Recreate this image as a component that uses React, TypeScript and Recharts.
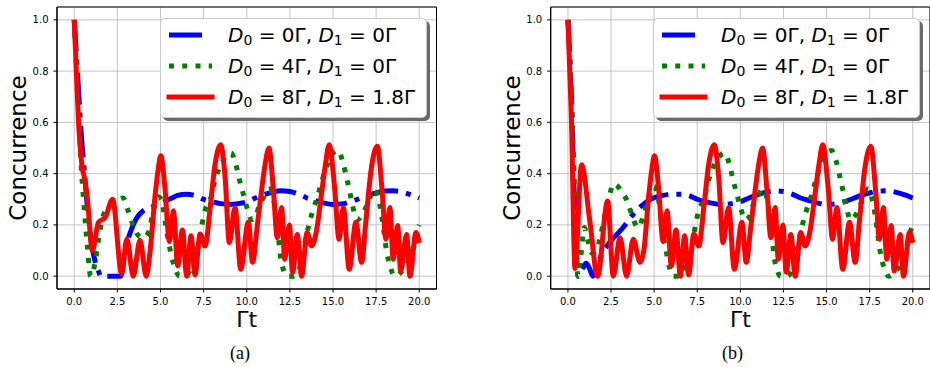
import React from 'react';
import { LineChart, Line, XAxis, YAxis, CartesianGrid, ReferenceArea, Legend } from 'recharts';

type P = [number, number];

const xTicks = [0, 2.5, 5, 7.5, 10, 12.5, 15, 17.5, 20];
const yTicks = [0, 0.2, 0.4, 0.6, 0.8, 1.0];
const d0Labels = ['0Γ', '4Γ', '8Γ'];
const d1Labels = ['0Γ', '0Γ', '1.8Γ'];
const captions = ['(a)', '(b)'];

// ---- blue: D0 = 0Γ, D1 = 0Γ ----
const blueHeadA: P[] = [
  [0, 1.0], [0.2, 0.78], [0.4, 0.56], [0.6, 0.4], [0.8, 0.24], [1.0, 0.13], [1.2, 0.06],
  [1.4, 0.02], [1.55, 0.0], [2.7, 0.0], [2.9, 0.08], [3.1, 0.14], [3.3, 0.18], [3.6, 0.225],
  [4.0, 0.255], [4.5, 0.27], [5.0, 0.285], [5.5, 0.3], [6.0, 0.315],
];
const blueHeadB: P[] = [
  [0, 1.0], [0.2, 0.7], [0.35, 0.35], [0.5, 0.05], [0.6, 0.0], [0.85, 0.03], [1.05, 0.05],
  [1.25, 0.03], [1.45, 0.0], [1.6, 0.02], [1.8, 0.06], [2.0, 0.09], [2.4, 0.13], [2.8, 0.16],
  [3.2, 0.19], [3.7, 0.235], [4.2, 0.27], [4.8, 0.3], [5.5, 0.315], [6.0, 0.32],
];
const blueTail: P[] = [
  [6.5, 0.32], [7.0, 0.315], [7.5, 0.3], [8.0, 0.29], [8.5, 0.283], [9.0, 0.28], [9.5, 0.283],
  [10.0, 0.29], [10.5, 0.305], [11.0, 0.318], [11.5, 0.328], [12.0, 0.333], [12.5, 0.33],
  [13.0, 0.32], [13.5, 0.305], [14.0, 0.295], [14.5, 0.285], [15.0, 0.28], [15.5, 0.282],
  [16.0, 0.29], [16.5, 0.302], [17.0, 0.315], [17.5, 0.325], [18.0, 0.332], [18.5, 0.333],
  [19.0, 0.328], [19.5, 0.318], [20.0, 0.305],
];

// ---- green: D0 = 4Γ, D1 = 0Γ ----
const greenHeadA: P[] = [
  [0, 1.0], [0.2, 0.72], [0.43, 0.4], [0.55, 0.29], [0.64, 0.21], [0.77, 0.11], [0.95, 0.0],
  [1.25, 0.07], [1.4, 0.14], [1.55, 0.2], [1.7, 0.24], [2.0, 0.27], [2.4, 0.29], [2.84, 0.305],
  [3.1, 0.26], [3.4, 0.2], [3.7, 0.16], [4.0, 0.15], [4.3, 0.17], [4.6, 0.26], [4.85, 0.31],
  [5.05, 0.3], [5.3, 0.2], [5.6, 0.09], [5.9, 0.02],
];
const greenHeadB: P[] = [
  [0, 1.0], [0.2, 0.7], [0.4, 0.3], [0.5, 0.1], [0.58, 0.0], [0.75, 0.08], [0.95, 0.19],
  [1.15, 0.14], [1.4, 0.09], [1.65, 0.1], [1.9, 0.16], [2.15, 0.24], [2.4, 0.31], [2.63, 0.36],
  [2.9, 0.35], [3.1, 0.33], [3.48, 0.287], [3.7, 0.24], [4.07, 0.19], [4.35, 0.23], [4.7, 0.31],
  [5.0, 0.35], [5.25, 0.3], [5.5, 0.17], [5.72, 0.09], [5.9, 0.03],
];
const greenTail: P[] = [
  [6.1, 0.0], [6.4, 0.0], [6.7, 0.02], [6.9, 0.05], [7.1, 0.09], [7.4, 0.2], [7.6, 0.26],
  [7.9, 0.3], [8.1, 0.36], [8.4, 0.42], [8.7, 0.46], [9.1, 0.48], [9.35, 0.44], [9.6, 0.37],
  [9.8, 0.32], [10.0, 0.27], [10.3, 0.22], [10.5, 0.23], [10.7, 0.27], [11.0, 0.31],
  [11.3, 0.34], [11.55, 0.3], [11.8, 0.18], [11.95, 0.08], [12.15, 0.02], [12.35, 0.0],
  [12.7, 0.0], [13.0, 0.02], [13.2, 0.07], [13.4, 0.14], [13.6, 0.2], [13.85, 0.26],
  [14.1, 0.31], [14.4, 0.38], [14.7, 0.44], [15.0, 0.48], [15.3, 0.49], [15.55, 0.45],
  [15.8, 0.38], [16.0, 0.32], [16.15, 0.27], [16.4, 0.22], [16.6, 0.23], [16.85, 0.26],
  [17.1, 0.3], [17.4, 0.34], [17.65, 0.3], [17.9, 0.2], [18.1, 0.1], [18.3, 0.04], [18.6, 0.0],
  [19.0, 0.02], [19.4, 0.06], [19.6, 0.1], [19.8, 0.16], [20.0, 0.2],
];

// ---- red: D0 = 8Γ, D1 = 1.8Γ ----
const redHeadA: P[] = [
  [0, 1.0], [0.12, 0.8], [0.25, 0.6], [0.45, 0.43], [0.6, 0.38], [0.75, 0.31], [1.05, 0.1],
  [1.4, 0.21], [1.8, 0.23], [2.22, 0.3], [2.75, 0.01], [3.05, 0.145], [3.42, 0.0], [3.81, 0.14],
  [4.17, 0.0],
];
const redHeadB: P[] = [
  [0, 1.0], [0.2, 0.62], [0.41, 0.03], [0.79, 0.435], [1.26, 0.22], [1.72, 0.0], [2.3, 0.293],
  [2.63, 0.0], [3.02, 0.15], [3.4, 0.0], [3.79, 0.144], [4.18, 0.054],
];
const redTail: P[] = [
  [4.4, 0.1], [4.68, 0.31], [4.87, 0.42], [5.02, 0.47], [5.25, 0.35], [5.52, 0.135],
  [5.75, 0.255], [6.0, 0.04], [6.27, 0.18], [6.52, 0.0], [6.77, 0.158], [7.0, 0.005],
  [7.3, 0.165], [7.58, 0.118], [7.9, 0.28], [8.15, 0.43], [8.49, 0.513], [8.75, 0.38],
  [8.99, 0.131], [9.32, 0.268], [9.65, 0.027], [10.09, 0.21], [10.34, 0.054], [10.6, 0.19],
  [10.85, 0.33], [11.05, 0.43], [11.29, 0.5], [11.55, 0.33], [11.77, 0.15], [12.02, 0.268],
  [12.2, 0.066], [12.47, 0.2], [12.66, 0.015], [12.93, 0.163], [13.18, 0.0], [13.5, 0.17],
  [13.76, 0.118], [14.05, 0.18], [14.35, 0.33], [14.55, 0.43], [14.78, 0.513], [15.1, 0.34],
  [15.35, 0.144], [15.6, 0.268], [15.94, 0.027], [16.33, 0.21], [16.66, 0.054], [16.9, 0.21],
  [17.2, 0.41], [17.57, 0.507], [17.85, 0.33], [18.07, 0.144], [18.3, 0.268], [18.49, 0.066],
  [18.75, 0.198], [18.92, 0.02], [19.27, 0.163], [19.46, 0.0], [19.81, 0.17], [20.0, 0.13],
];

const rows = (pts: P[]) => pts.map(([t, c]) => ({ t, c }));

const BLUE = '#0000ff';
const GREEN = '#008000';
const RED = '#ff0000';
const blueDash = '32 8 5 8';
const greenDash = '5 8.25';

const tickFont = { fontFamily: 'DejaVu Sans', fontSize: 10, fill: '#000' };

const LegendBox = () => {
  const handleY = [17, 48, 79];
  const styles = [
    { stroke: BLUE, dash: '33 30', cap: 'butt' },
    { stroke: GREEN, dash: greenDash, cap: 'butt' },
    { stroke: RED, dash: undefined, cap: 'square' },
  ];
  return (
    <div
      style={{
        position: 'relative',
        width: 267,
        height: 100,
        boxSizing: 'border-box',
        background: '#fff',
        border: '1px solid #cccccc',
        borderRadius: 5,
        boxShadow: '3px 3px 0 #6a6a6a',
        fontFamily: 'DejaVu Sans',
        color: '#000',
      }}
    >
      {styles.map((s, i) => (
        <React.Fragment key={i}>
          <svg
            width={60}
            height={12}
            style={{ position: 'absolute', left: 0, top: handleY[i] - 6 - 1 }}
          >
            <line
              x1={8}
              x2={51}
              y1={6}
              y2={6}
              stroke={s.stroke}
              strokeWidth={5}
              strokeDasharray={s.dash}
              strokeLinecap={s.cap as any}
            />
          </svg>
          <div
            style={{
              position: 'absolute',
              left: 67,
              top: handleY[i] - 11.7 - 1,
              fontSize: 20,
              lineHeight: '24px',
              whiteSpace: 'nowrap',
            }}
          >
            <i>D</i>
            <span style={{ fontSize: '0.7em', position: 'relative', top: '0.2em' }}>0</span>
            {' = ' + d0Labels[i] + ', '}
            <i>D</i>
            <span style={{ fontSize: '0.7em', position: 'relative', top: '0.2em' }}>1</span>
            {' = ' + d1Labels[i]}
          </div>
        </React.Fragment>
      ))}
    </div>
  );
};

type PanelProps = {
  blue: P[];
  green: P[];
  red: P[];
  marginLeft: number;
  marginRight: number;
  legendLeft: number;
};

const Panel = ({ blue, green, red, marginLeft, marginRight, legendLeft }: PanelProps) => (
  <LineChart
    width={465}
    height={367}
    margin={{ top: 7, right: marginRight, bottom: 0, left: marginLeft }}
  >
    <CartesianGrid stroke="#c4c4c4" strokeWidth={1} />
    <XAxis
      dataKey="t"
      type="number"
      domain={[-1, 21]}
      ticks={xTicks}
      allowDataOverflow
      height={78}
      tickFormatter={(v: number) => v.toFixed(1)}
      tick={tickFont}
      tickSize={3.5}
      tickMargin={5}
      stroke="#000"
      tickLine={{ stroke: '#000' }}
      label={{
        content: (props: any) => {
          const vb = props.viewBox || {};
          return (
            <text
              x={vb.x + vb.width / 2}
              y={vb.y + 38.3}
              textAnchor="middle"
              fontFamily="DejaVu Sans"
              fontSize={22}
              fill="#000"
            >
              Γt
            </text>
          );
        },
      }}
    />
    <YAxis
      type="number"
      domain={[-0.05, 1.05]}
      ticks={yTicks}
      allowDataOverflow
      width={57}
      tickFormatter={(v: number) => v.toFixed(1)}
      tick={tickFont}
      tickSize={3.5}
      tickMargin={5}
      stroke="#000"
      tickLine={{ stroke: '#000' }}
      label={{
        content: (props: any) => {
          const vb = props.viewBox || {};
          const cx = vb.x + 26;
          const cy = vb.y + vb.height / 2;
          return (
            <text
              x={cx}
              y={cy}
              transform={`rotate(-90, ${cx}, ${cy})`}
              textAnchor="middle"
              fontFamily="DejaVu Sans"
              fontSize={23}
              fill="#000"
            >
              Concurrence
            </text>
          );
        },
      }}
    />
    <Line
      data={rows(blue)}
      dataKey="c"
      type="monotone"
      stroke={BLUE}
      strokeWidth={5}
      strokeDasharray={blueDash}
      dot={false}
      activeDot={false}
      isAnimationActive={false}
    />
    <Line
      data={rows(green)}
      dataKey="c"
      type="monotone"
      stroke={GREEN}
      strokeWidth={5}
      strokeDasharray={greenDash}
      dot={false}
      activeDot={false}
      isAnimationActive={false}
    />
    <Line
      data={rows(red)}
      dataKey="c"
      type="monotone"
      stroke={RED}
      strokeWidth={5}
      strokeLinejoin="round"
      dot={false}
      activeDot={false}
      isAnimationActive={false}
    />
    <ReferenceArea
      x1={-1}
      x2={21}
      y1={-0.05}
      y2={1.05}
      fill="none"
      fillOpacity={0}
      stroke="#000"
      strokeWidth={1}
      ifOverflow="visible"
    />
    <Legend
      layout="vertical"
      align="center"
      verticalAlign="middle"
      wrapperStyle={{ left: legendLeft, top: 18, width: 267, height: 100 }}
      content={() => <LegendBox />}
    />
  </LineChart>
);

export default function App() {
  return (
    <div
      style={{
        position: 'absolute',
        left: 0,
        top: 0,
        width: 930,
        height: 367,
        background: '#fff',
        overflow: 'hidden',
      }}
    >
      <div style={{ position: 'absolute', left: 0, top: 0 }}>
        <Panel
          blue={[...blueHeadA, ...blueTail]}
          green={[...greenHeadA, ...greenTail]}
          red={[...redHeadA, ...redTail]}
          marginLeft={0}
          marginRight={28.5}
          legendLeft={160}
        />
      </div>
      <div style={{ position: 'absolute', left: 465, top: 0 }}>
        <Panel
          blue={[...blueHeadB, ...blueTail]}
          green={[...greenHeadB, ...greenTail]}
          red={[...redHeadB, ...redTail]}
          marginLeft={28.7}
          marginRight={0}
          legendLeft={188}
        />
      </div>
      {captions.map((c, i) => (
        <div
          key={c}
          style={{
            position: 'absolute',
            left: (i === 0 ? 240 : 732.5) - 50,
            top: 344.4,
            width: 100,
            textAlign: 'center',
            fontFamily: 'Liberation Serif',
            fontSize: 18,
            lineHeight: '18px',
            color: '#000',
          }}
        >
          {c}
        </div>
      ))}
    </div>
  );
}
